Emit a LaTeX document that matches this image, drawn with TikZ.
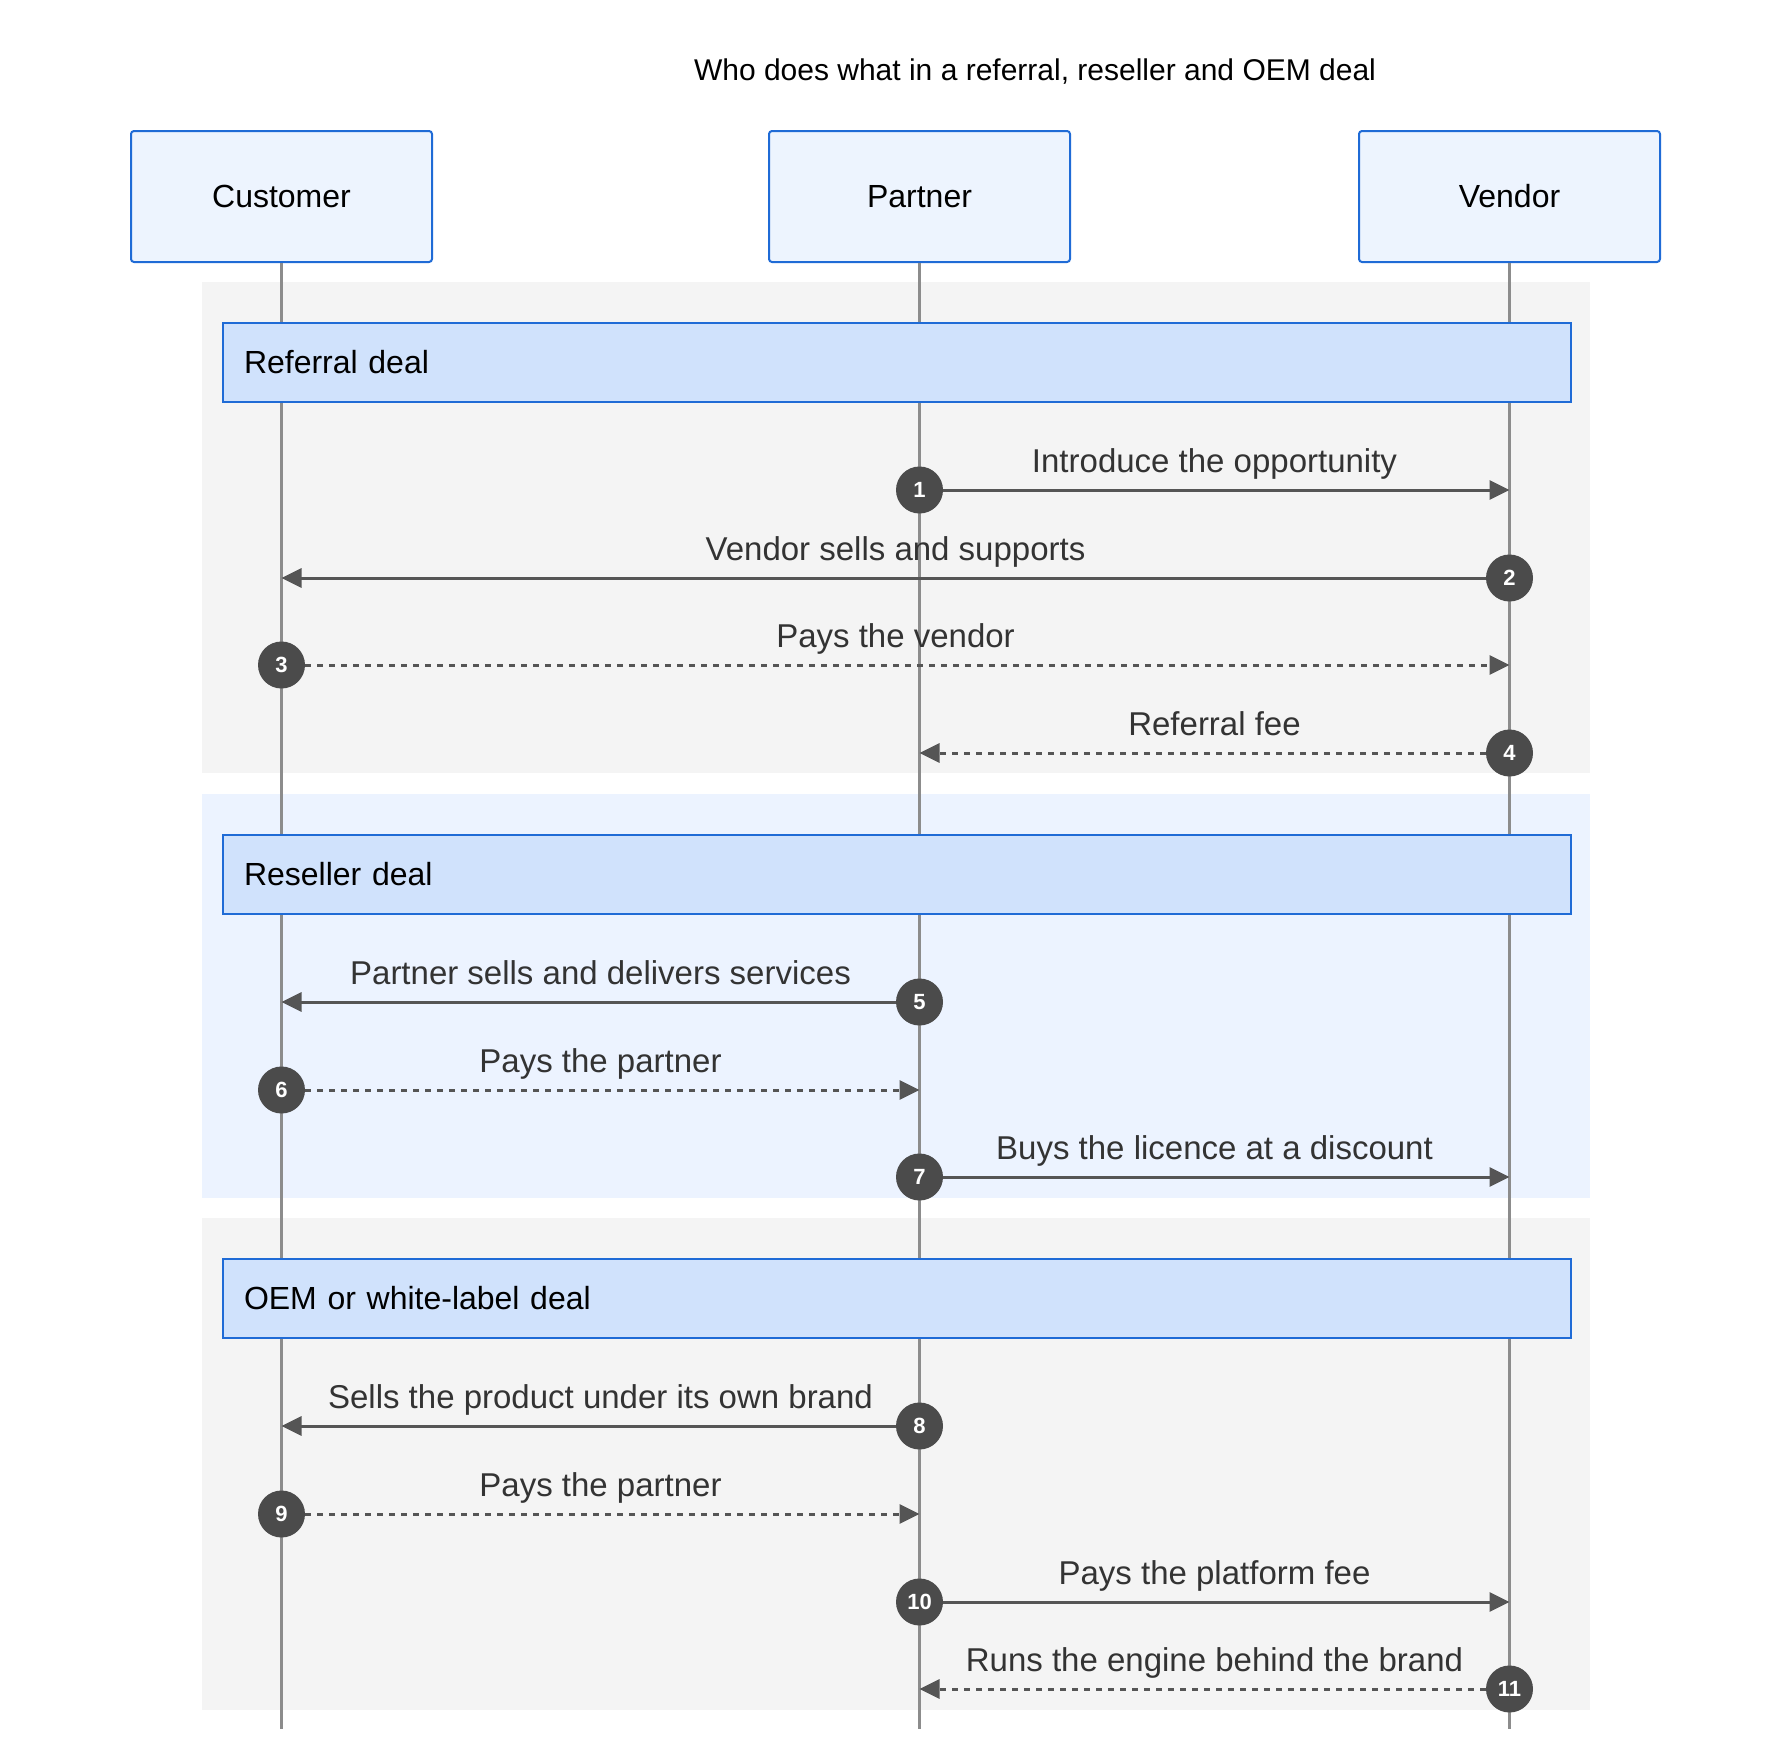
\documentclass[tikz,border=0pt]{standalone}
\usepackage{fontspec}
\setmainfont{Liberation Sans}
\usetikzlibrary{arrows.meta}

\definecolor{actorfill}{HTML}{EDF4FE}
\definecolor{actorline}{HTML}{1F6BD6}
\definecolor{notefill}{HTML}{D0E2FC}
\definecolor{bandgray}{HTML}{F4F4F4}
\definecolor{bandblue}{HTML}{ECF3FF}
\definecolor{lifegray}{HTML}{8C8C8C}
\definecolor{msggray}{HTML}{555555}
\definecolor{stepgray}{HTML}{4B4B4B}
\definecolor{msgtext}{HTML}{333333}

\newcommand{\custx}{281.5}
\newcommand{\partx}{919.5}
\newcommand{\vendx}{1509.5}

\begin{document}
\begin{tikzpicture}[x=1pt, y=-1pt,
    bigfont/.style={font=\fontsize{32}{38}\selectfont},
    actor/.style={bigfont, draw=actorline, fill=actorfill, line width=2pt, rounded corners=3pt,
        minimum width=301pt, minimum height=131pt, inner sep=0pt},
    dealbox/.style={bigfont, draw=actorline, fill=notefill, line width=2pt, anchor=north west,
        text width=1306pt, align=left, inner xsep=21pt, minimum height=79pt},
    lifeline/.style={draw=lifegray, line width=3.5pt},
    msg/.style={draw=msggray, line width=3pt, -{Triangle[length=20pt, width=19pt]}},
    msgdash/.style={msg, dash pattern=on 6pt off 6pt},
    msglabel/.style={font=\fontsize{33}{40}\selectfont, text=msgtext, anchor=base, inner sep=0pt},
    stepdot/.style={circle, fill=stepgray, text=white, minimum size=47pt, inner sep=0pt,
        font=\fontsize{22}{26}\selectfont\bfseries}]
    \useasboundingbox (0,0) rectangle (1792,1762);

    % title
    \node [font=\fontsize{30}{36}\selectfont, text=black] (title) at (1035,72) {Who does what in a referral, reseller and OEM deal};

    % background bands
    \fill [bandgray] (202,282) rectangle (1590,773);
    \fill [bandblue] (202,794) rectangle (1590,1198);
    \fill [bandgray] (202,1218) rectangle (1590,1710);

    % actors and lifelines
    \node [actor] (cust) at (\custx,196.5) {Customer};
    \node [actor] (part) at (\partx,196.5) {Partner};
    \node [actor] (vend) at (\vendx,196.5) {Vendor};
    \coordinate (cust end) at (\custx,1729);
    \coordinate (part end) at (\partx,1729);
    \coordinate (vend end) at (\vendx,1729);
    \draw [lifeline] (cust) -- (cust end);
    \draw [lifeline] (part) -- (part end);
    \draw [lifeline] (vend) -- (vend end);

    % deal headers
    \node [dealbox] (referral) at (222,322) {Referral deal};
    \node [dealbox] (reseller) at (222,834) {Reseller deal};
    \node [dealbox] (oem) at (222,1258) {OEM or white-label deal};

    % messages
    \foreach \n/\from/\to/\y/\sty/\txt in {
        1/\partx/\vendx/490/msg/Introduce the opportunity,
        2/\vendx/\custx/578/msg/Vendor sells and supports,
        3/\custx/\vendx/665/msgdash/Pays the vendor,
        4/\vendx/\partx/753/msgdash/Referral fee,
        5/\partx/\custx/1002/msg/Partner sells and delivers services,
        6/\custx/\partx/1090/msgdash/Pays the partner,
        7/\partx/\vendx/1177/msg/Buys the licence at a discount,
        8/\partx/\custx/1426/msg/Sells the product under its own brand,
        9/\custx/\partx/1514/msgdash/Pays the partner,
        10/\partx/\vendx/1602/msg/Pays the platform fee,
        11/\vendx/\partx/1689/msgdash/Runs the engine behind the brand}{
        \node [msglabel] (l\n) at ({(\from+\to)/2},\y-18) {\txt};
        \node [stepdot] (m\n) at (\from,\y) {\n};
        \coordinate (e\n) at (\to,\y);
        \draw [\sty] (m\n) -- (e\n);
    }
\end{tikzpicture}
\end{document}
